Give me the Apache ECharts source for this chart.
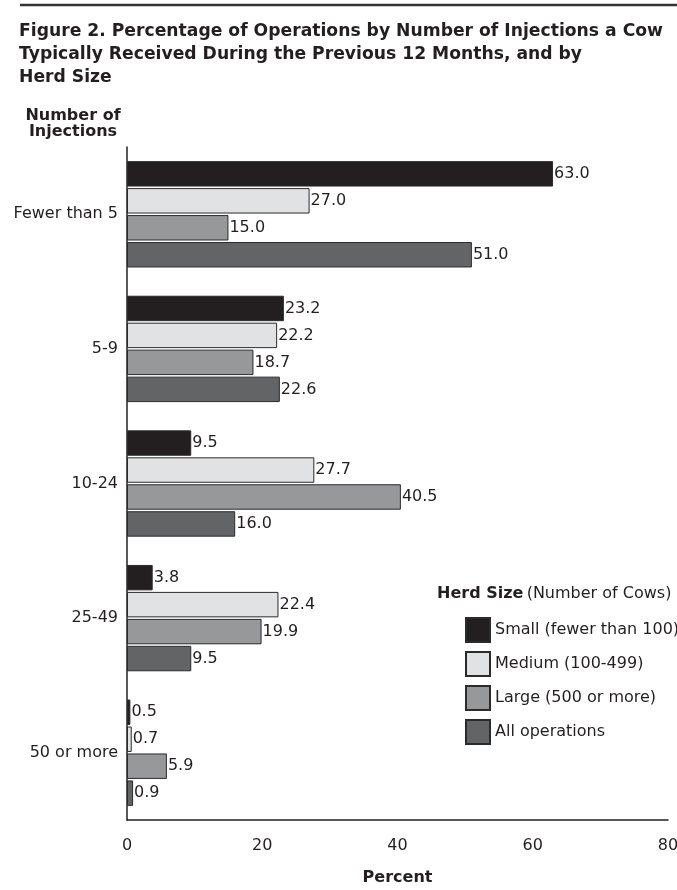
<!DOCTYPE html>
<html>
<head>
<meta charset="utf-8">
<script src="https://cdn.jsdelivr.net/npm/echarts@6/dist/echarts.min.js"></script>
<style>
html,body{margin:0;padding:0;background:#fff;}
#chart{width:677px;height:890px;}
</style>
</head>
<body>
<div id="chart"></div>
<script>
var categories = ['Fewer than 5', '5-9', '10-24', '25-49', '50 or more'];
var seriesNames = ['Small (fewer than 100)', 'Medium (100-499)', 'Large (500 or more)', 'All operations'];
var smallValues = [63.0, 23.2, 9.5, 3.8, 0.5];
var mediumValues = [27.0, 22.2, 27.7, 22.4, 0.7];
var largeValues = [15.0, 18.7, 40.5, 19.9, 5.9];
var allValues = [51.0, 22.6, 16.0, 9.5, 0.9];
var xTicks = [0, 20, 40, 60, 80];

var FONT = '"DejaVu Sans", sans-serif';
var TEXT = '#231f20';
var colors = ['#231f20', '#e1e2e3', '#96989a', '#636466'];
var valueSets = [smallValues, mediumValues, largeValues, allValues];

var chart = echarts.init(document.getElementById('chart'), null, {renderer: 'canvas'});

var series = seriesNames.map(function (name, i) {
  return {
    name: name,
    type: 'bar',
    data: valueSets[i],
    barCategoryGap: '21%',
    barGap: '6%',
    itemStyle: {color: colors[i], borderColor: '#2b2b2b', borderWidth: 1},
    label: {
      show: true,
      position: 'right',
      distance: 1,
      color: TEXT,
      fontFamily: FONT,
      fontSize: 16,
      formatter: function (p) { return p.value.toFixed(1); }
    },
    emphasis: {disabled: true}
  };
});

chart.setOption({
  animation: false,
  backgroundColor: '#fff',
  title: {
    text: 'Figure 2. Percentage of Operations by Number of Injections a Cow\nTypically Received During the Previous 12 Months, and by\nHerd Size',
    left: 19,
    top: 20,
    padding: 0,
    textStyle: {fontFamily: FONT, fontWeight: 'bold', fontSize: 17.2, lineHeight: 23, color: TEXT}
  },
  grid: {left: 127, right: 9, top: 147, bottom: 70, containLabel: false, outerBoundsMode: 'none'},
  legend: {
    orient: 'vertical',
    left: 460,
    top: 612,
    itemWidth: 24,
    itemHeight: 24,
    itemGap: 8,
    icon: 'rect',
    data: seriesNames,
    textStyle: {fontFamily: FONT, fontSize: 16, color: TEXT},
    selectedMode: false
  },
  xAxis: {
    type: 'value',
    min: xTicks[0],
    max: xTicks[xTicks.length - 1],
    interval: xTicks[1] - xTicks[0],
    name: 'Percent',
    nameLocation: 'middle',
    nameGap: 50,
    nameTextStyle: {fontFamily: FONT, fontWeight: 'bold', fontSize: 16, color: TEXT},
    axisLine: {show: true, lineStyle: {color: '#231f20', width: 1.5}},
    axisTick: {show: false},
    splitLine: {show: false},
    axisLabel: {fontFamily: FONT, fontSize: 16, color: TEXT, margin: 18}
  },
  yAxis: {
    type: 'category',
    data: categories,
    inverse: true,
    axisLine: {show: true, lineStyle: {color: '#231f20', width: 1.5}},
    axisTick: {show: false},
    axisLabel: {fontFamily: FONT, fontSize: 16, color: TEXT, margin: 9}
  },
  graphic: [
    {type: 'line', shape: {x1: 20, y1: 5, x2: 677, y2: 5}, style: {stroke: '#333', lineWidth: 2.5}},
    {type: 'text', x: 73, y: 108, style: {text: 'Number of\nInjections', fontFamily: FONT, fontWeight: 'bold', fontSize: 16, lineHeight: 16, fill: TEXT, align: 'center', verticalAlign: 'top'}},
    {type: 'text', x: 437, y: 586, style: {
      text: '{b|Herd Size} {n|(Number of Cows)}',
      rich: {
        b: {fontFamily: FONT, fontWeight: 'bold', fontSize: 16, fill: TEXT, color: TEXT},
        n: {fontFamily: FONT, fontSize: 16, fill: TEXT, color: TEXT}
      },
      verticalAlign: 'top'
    }}
  ],
  series: series
});
</script>
</body>
</html>
